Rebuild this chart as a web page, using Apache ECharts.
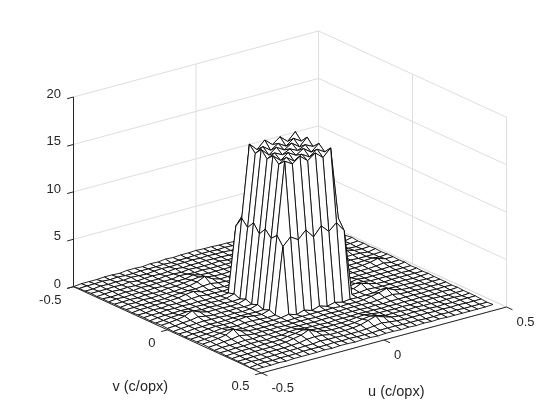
<!DOCTYPE html>
<html><head><meta charset="utf-8">
<style>html,body{margin:0;padding:0;background:#fff}#c{width:560px;height:420px}</style>
<script src="https://cdn.jsdelivr.net/npm/echarts@6/dist/echarts.min.js"></script>
</head><body><div id="c"></div>
<script>
const uTicks = [-0.5, 0, 0.5];
const vTicks = [-0.5, 0, 0.5];
const zTicks = [0, 5, 10, 15, 20];
const uTickLabels = ['-0.5', '0', '0.5'];
const vTickLabels = ['-0.5', '0', '0.5'];
const zTickLabels = ['0', '5', '10', '15', '20'];
const uTitle = 'u (c/opx)';
const vTitle = 'v (c/opx)';
const gridSize = 32;
// magnitude, one row per v sample (top = v -0.5), one column per u sample
const z00=[0,.1,.1,.1,.15,.15,.1,.2,.2,.15,.25,.2,.3,.25,.3,.3,.35,.3,.3,.25,.25,.2,.3,.25,.3,.2,.25,.25,.2,.2,.25,.3];
const z01=[.1,.15,.15,.2,.15,.2,.15,.15,.2,.2,.2,.25,.2,.25,.25,.3,.3,.3,.25,.3,.25,.25,.2,.25,.25,.25,.2,.25,.25,.2,.25,.35];
const z02=[.1,.1,.2,.15,.2,.15,.25,.2,.15,.25,.3,.25,.3,.3,.35,.3,.35,.3,.3,.25,.3,.2,.25,.2,.3,.2,.25,.2,.3,.25,.25,.3];
const z03=[.15,.15,.15,.2,.15,.25,.15,.2,.25,.2,.25,.35,.25,.3,.3,.35,.3,.3,.25,.3,.25,.3,.2,.3,.2,.25,.25,.25,.2,.25,.2,.4];
const z04=[.1,.15,.2,.15,.2,.15,.2,.2,.2,.3,.3,.25,.35,.3,.3,.3,.35,.25,.3,.25,.3,.25,.35,.25,.3,.2,.3,.2,.25,.2,.3,.35];
const z05=[.15,.1,.15,.2,.15,.25,.2,.25,.25,.25,.4,.35,.3,.35,.3,.3,.3,.3,.3,.35,.3,.35,.3,.3,.25,.3,.2,.3,.25,.25,.25,.4];
const z06=[.1,.2,.15,.2,.2,.2,.25,.2,.3,.35,.35,.55,.35,.3,.3,.3,.3,.3,.3,.3,.4,.4,.35,.3,.3,.25,.25,.25,.3,.2,.3,.35];
const z07=[.15,.15,.2,.15,.25,.2,.2,.3,.3,.4,.5,.6,.4,.3,.25,.3,.25,.3,.25,.35,.45,.5,.35,.3,.25,.3,.25,.3,.25,.3,.25,.45];
const z08=[.1,.2,.15,.25,.2,.25,.25,.25,.35,.4,.6,.95,.5,.25,.3,.25,.3,.25,.3,.25,.5,.65,.4,.3,.3,.25,.3,.3,.3,.25,.3,.35];
const z09=[.15,.15,.2,.2,.2,.2,.3,.35,.4,.35,.45,.5,.35,.3,.2,.3,.25,.3,.25,.3,.35,.4,.3,.3,.25,.3,.3,.35,.35,.3,.25,.4];
const z10=[.1,.2,.2,.25,.25,.3,.35,.5,.6,.35,.3,.3,.25,.3,.25,.35,.3,.35,.25,.3,.3,.3,.3,.25,.3,.3,.35,.45,.6,.35,.3,.35];
const z11=[.15,.15,.25,.2,.3,.25,.3,.35,.4,.3,.3,.25,.3,.2,.35,.25,.35,.25,.35,.2,.3,.25,.3,.3,.25,.3,.3,.35,.4,.35,.25,.4];
const z12=[.15,.2,.2,.3,.25,.3,.25,.3,.25,.3,.25,.35,7.2,8.3,7.6,8.4,7.5,8.4,7.6,8.3,7.2,.35,.25,.3,.3,.3,.3,.35,.3,.3,.3,.35];
const z13=[.1,.2,.25,.25,.3,.25,.3,.25,.3,.25,.3,.55,8.3,15.9,15.1,15.9,15.2,15.8,15.1,15.9,8.3,.5,.3,.25,.3,.3,.3,.3,.35,.4,.3,.4];
const z14=[.15,.2,.3,.35,.45,.35,.25,.3,.25,.3,.25,.3,7.6,15.2,15.7,15.1,15.6,15.1,15.7,15.2,7.6,.3,.25,.3,.25,.3,.3,.35,.45,.65,.4,.4];
const z15=[.2,.25,.35,.5,.85,.5,.3,.3,.3,.25,.3,.55,8.4,15.9,15.1,15.7,15.2,15.7,15.1,15.9,8.4,.55,.3,.25,.3,.3,.3,.3,.35,.45,.3,.35];
const z16=[.15,.2,.3,.35,.5,.35,.25,.3,.25,.3,.25,.3,7.5,15.2,15.6,15.2,15.6,15.2,15.6,15.2,7.5,.3,.25,.3,.25,.3,.3,.3,.3,.35,.3,.4];
const z17=[.1,.2,.25,.3,.35,.3,.3,.25,.3,.25,.3,.55,8.3,15.8,15.1,15.7,15.2,15.7,15.1,15.8,8.4,.5,.3,.25,.4,.3,.3,.3,.3,.3,.3,.3];
const z18=[.15,.15,.25,.25,.3,.25,.25,.3,.3,.3,.25,.3,7.6,15.2,15.7,15.1,15.6,15.1,15.7,15.2,7.6,.3,.3,.45,.45,.3,.3,.3,.25,.3,.25,.35];
const z19=[.1,.2,.2,.3,.35,.3,.3,.4,.5,.35,.3,.55,8.2,15.8,15.3,15.9,15.2,15.8,15.1,15.9,8.3,.55,.4,.75,.5,.3,.25,.3,.3,.3,.3,.3];
const z20=[.15,.2,.25,.3,.4,.3,.25,.35,.35,.3,.25,.3,7.3,8.1,7.6,8.4,7.45,8.4,7.6,8.3,7.25,.3,.3,.4,.35,.3,.3,.3,.3,.25,.3,.35];
const z21=[.15,.2,.3,.4,.5,.35,.25,.3,.25,.3,.25,.3,.45,.2,.45,.2,.45,.2,.4,.2,.3,.25,.3,.3,.45,.35,.3,.3,.25,.3,.25,.3];
const z22=[.2,.25,.35,.5,.9,.5,.3,.25,.25,.25,.3,.25,.3,.3,.3,.3,.3,.3,.25,.3,.25,.3,.45,.6,.85,.5,.3,.25,.3,.25,.3,.3];
const z23=[.15,.2,.3,.35,.5,.35,.25,.3,.25,.3,.25,.3,.3,.3,.25,.3,.3,.25,.3,.3,.3,.25,.3,.4,.5,.35,.3,.3,.25,.3,.25,.3];
const z24=[.1,.2,.2,.25,.3,.25,.3,.25,.3,.3,.35,.3,.3,.25,.3,.3,.3,.3,.3,.3,.25,.3,.25,.3,.3,.3,.3,.25,.3,.25,.3,.25];
const z25=[.15,.15,.2,.2,.25,.25,.2,.3,.25,.4,.45,.35,.3,.3,.25,.3,.3,.3,.35,.3,.3,.25,.3,.25,.3,.25,.3,.25,.25,.3,.25,.3];
const z26=[.1,.15,.2,.2,.2,.25,.25,.25,.4,.5,.65,.45,.35,.3,.3,.3,.35,.45,.5,.4,.3,.3,.25,.3,.25,.3,.25,.3,.25,.2,.25,.25];
const z27=[.1,.15,.15,.2,.2,.2,.25,.3,.45,.6,.95,.55,.4,.3,.3,.35,.4,.55,.65,.5,.3,.3,.3,.25,.3,.25,.25,.2,.25,.25,.2,.25];
const z28=[.1,.1,.15,.15,.2,.2,.2,.25,.3,.45,.5,.45,.3,.3,.3,.35,.45,.7,.95,.65,.4,.3,.25,.3,.25,.25,.2,.25,.2,.25,.25,.25];
const z29=[.1,.15,.1,.15,.15,.2,.2,.2,.25,.25,.35,.3,.3,.25,.25,.25,.3,.4,.5,.4,.3,.25,.25,.25,.25,.2,.25,.2,.25,.2,.2,.2];
const z30=[0,.1,.15,.1,.15,.15,.15,.2,.2,.2,.2,.25,.2,.25,.2,.2,.2,.25,.25,.25,.2,.2,.2,.15,.15,.2,.15,.2,.15,.15,.15,.15];
const z31=[.1,.1,.1,.15,.1,.15,.15,.15,.15,.2,.15,.2,.2,.15,.2,.2,.15,.2,.2,.15,.2,.15,.2,.15,.2,.15,.15,.15,.15,.15,.15,.2];
const zRows=[z00,z01,z02,z03,z04,z05,z06,z07,z08,z09,z10,z11,z12,z13,z14,z15,z16,z17,z18,z19,z20,z21,z22,z23,z24,z25,z26,z27,z28,z29,z30,z31];

// Oblique view: plane-coordinate contribution of each data axis.
const PLOT_W = 433.2, PLOT_H = 342;
const UX = 245 / PLOT_W, VX = 188 / PLOT_W;
const UY = 66 / PLOT_H, VY = 86.3 / PLOT_H, ZY = (189.7 / 20) / PLOT_H;
const project = (u, v, z) => [
  (u + .5) * UX + (v + .5) * VX,
  (u + .5) * UY + (.5 - v) * VY + z * ZY
];
const nodeU = i => (i - gridSize / 2) / gridSize;

const INK = '#262626', GRID = '#dedede', MESH = '#000';
const seg = (a, b) => ({ a, b });

// back walls and floor
const gridSegs = [];
zTicks.forEach(z => {
  gridSegs.push(seg([-.5, -.5, z], [.5, -.5, z]), seg([.5, -.5, z], [.5, .5, z]));
});
uTicks.forEach(u => {
  gridSegs.push(seg([u, -.5, 0], [u, -.5, 20]), seg([u, -.5, 0], [u, .5, 0]));
});
vTicks.forEach(v => {
  gridSegs.push(seg([.5, v, 0], [.5, v, 20]), seg([-.5, v, 0], [.5, v, 0]));
});

// axis lines and ticks
const TICK_U = .026, TICK_V = .032;
const axisSegs = [seg([-.5, -.5, 0], [-.5, -.5, 20]), seg([-.5, -.5, 0], [-.5, .5, 0]), seg([-.5, .5, 0], [.5, .5, 0])];
zTicks.forEach(z => axisSegs.push(seg([-.5, -.5, z], [-.5 - TICK_U, -.5, z])));
vTicks.forEach(v => axisSegs.push(seg([-.5, v, 0], [-.5 - TICK_U, v, 0])));
uTicks.forEach(u => axisSegs.push(seg([u, .5, 0], [u, .5 + TICK_V, 0])));

// text
const TICK_FONT = '13px "Liberation Sans", Arial, sans-serif';
const TITLE_FONT = '14.5px "Liberation Sans", Arial, sans-serif';
const labels = [];
zTicks.forEach((z, k) => labels.push({ p: [-.5, -.5, z], t: zTickLabels[k], dx: -12.5, dy: -2.6, align: 'right', font: TICK_FONT }));
vTicks.forEach((v, k) => labels.push({ p: [-.5, v, 0], t: vTickLabels[k], dx: -12, dy: 13.3, align: 'right', font: TICK_FONT }));
uTicks.forEach((u, k) => labels.push({ p: [u, .5, 0], t: uTickLabels[k], dx: 10, dy: 15.8, align: 'left', font: TICK_FONT }));
labels.push({ p: [-.5, 0, 0], t: vTitle, dx: -27.2, dy: 56.7, align: 'center', font: TITLE_FONT });
labels.push({ p: [0, .5, 0], t: uTitle, dx: 12.3, dy: 51.7, align: 'center', font: TITLE_FONT });

// quads, painted from the far corner to the near one
const cells = [];
for (let i = gridSize - 2; i >= 0; i--) for (let j = 0; j < gridSize - 1; j++) cells.push([i, j]);

const segRender = (list, color, width) => (params, api) => {
  const s = list[params.dataIndex];
  const p0 = api.coord(project(...s.a)), p1 = api.coord(project(...s.b));
  return { type: 'line', shape: { x1: p0[0], y1: p0[1], x2: p1[0], y2: p1[1] },
           style: { stroke: color, lineWidth: width, fill: null }, silent: true };
};

const meshRender = (params, api) => {
  const i = api.value(0), j = api.value(1);
  const pts = [[i, j], [i + 1, j], [i + 1, j + 1], [i, j + 1]].map(([a, b]) =>
    api.coord(project(nodeU(a), nodeU(b), zRows[b][a])));
  return { type: 'polygon', shape: { points: pts },
           style: { fill: '#fff', stroke: MESH, lineWidth: .85, lineJoin: 'round' }, silent: true };
};

const textRender = (params, api) => {
  const l = labels[params.dataIndex];
  const p = api.coord(project(...l.p));
  return { type: 'text', x: p[0] + l.dx, y: p[1] + l.dy, silent: true,
           style: { text: l.t, fill: INK, font: l.font,
                    textAlign: l.align, textVerticalAlign: 'middle', align: l.align, verticalAlign: 'middle' } };
};

const custom = (name, data, renderItem, z) => ({
  type: 'custom', name, coordinateSystem: 'cartesian2d', data, renderItem, z,
  clip: false, animation: false, silent: true, encode: { x: 0, y: 1 }
});
const indexData = list => list.map((_, k) => [k, 0]);

const chart = echarts.init(document.getElementById('c'), null, { renderer: 'canvas' });
chart.setOption({
  backgroundColor: '#fff',
  animation: false,
  grid: { left: 73.5, top: 31, width: PLOT_W, height: PLOT_H },
  xAxis: { type: 'value', min: 0, max: 1, show: false },
  yAxis: { type: 'value', min: 0, max: 1, show: false },
  series: [
    custom('walls', indexData(gridSegs), segRender(gridSegs, GRID, 1), 1),
    custom('magnitude', cells, meshRender, 2),
    custom('axes', indexData(axisSegs), segRender(axisSegs, INK, 1), 3),
    custom('text', indexData(labels), textRender, 4)
  ]
});
</script></body></html>
